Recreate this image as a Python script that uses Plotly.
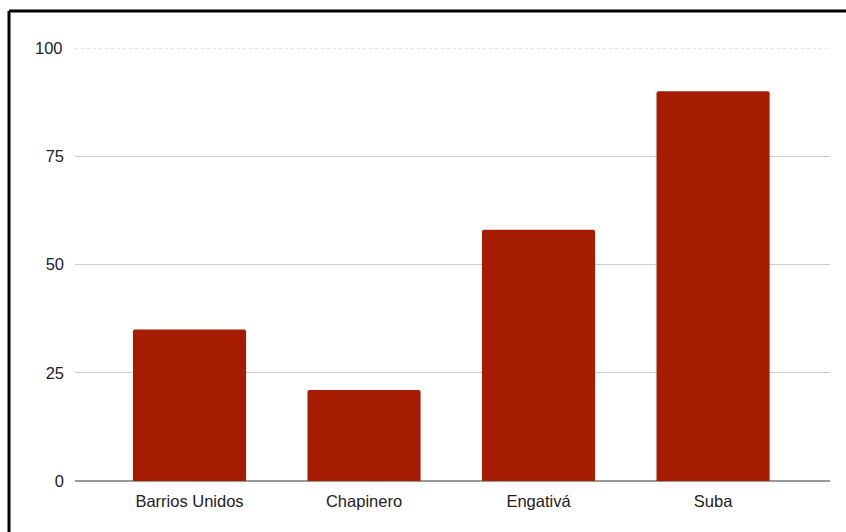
import plotly.graph_objects as go

categories = ["Barrios Unidos", "Chapinero", "Engativá", "Suba"]
values = [35, 21, 58, 90]
y_ticks = [0, 25, 50, 75, 100]

BAR_COLOR = "#a61c00"
FONT = "Liberation Sans, Arial, sans-serif"
FS = 16.5

fig = go.Figure()
fig.add_trace(go.Bar(
    x=categories,
    y=values,
    marker=dict(color=BAR_COLOR, line=dict(width=0), cornerradius=2),
    width=0.648,
    hoverinfo="x+y",
))

fig.update_layout(
    width=846,
    height=532,
    margin=dict(l=75, r=16, t=48, b=51),
    paper_bgcolor="white",
    plot_bgcolor="white",
    showlegend=False,
    font=dict(family=FONT, size=FS, color="#222222"),
    xaxis=dict(
        type="category",
        range=[-0.656, len(categories) - 1 + 0.67],
        showgrid=False,
        showline=False,
        zeroline=False,
        ticks="",
        ticklabelstandoff=8,
        tickfont=dict(family=FONT, size=FS, color="#222222"),
    ),
    yaxis=dict(
        range=[y_ticks[0], y_ticks[-1]],
        tickvals=y_ticks[:-1],
        ticktext=[str(v) for v in y_ticks[:-1]],
        showgrid=True,
        gridcolor="#cccccc",
        gridwidth=1,
        zeroline=True,
        zerolinecolor="#999999",
        zerolinewidth=2,
        showline=False,
        ticks="",
        ticklabelstandoff=10,
        tickfont=dict(family=FONT, size=FS, color="#222222"),
    ),
    shapes=[
        # dotted top gridline
        dict(type="line", xref="paper", yref="y", x0=0, x1=1,
             y0=y_ticks[-1], y1=y_ticks[-1],
             line=dict(color="#cccccc", width=1, dash="dot"), layer="below"),
        # frame border (top and left)
        dict(type="line", xref="paper", yref="paper", x0=-0.0874, x1=1.1,
             y0=1.0855, y1=1.0855, line=dict(color="black", width=3)),
        dict(type="line", xref="paper", yref="paper", x0=-0.0874, x1=-0.0874,
             y0=1.0855, y1=-0.2, line=dict(color="black", width=3)),
    ],
    annotations=[
        dict(xref="paper", yref="y", x=0, y=y_ticks[-1], text=str(y_ticks[-1]),
             showarrow=False, xanchor="right", yanchor="middle", xshift=-10,
             font=dict(family=FONT, size=FS, color="#222222")),
    ],
)

fig.write_html(
    "out.html",
    config={"displayModeBar": False},
    post_script="document.body.style.margin='0';document.body.style.overflow='hidden';",
)
